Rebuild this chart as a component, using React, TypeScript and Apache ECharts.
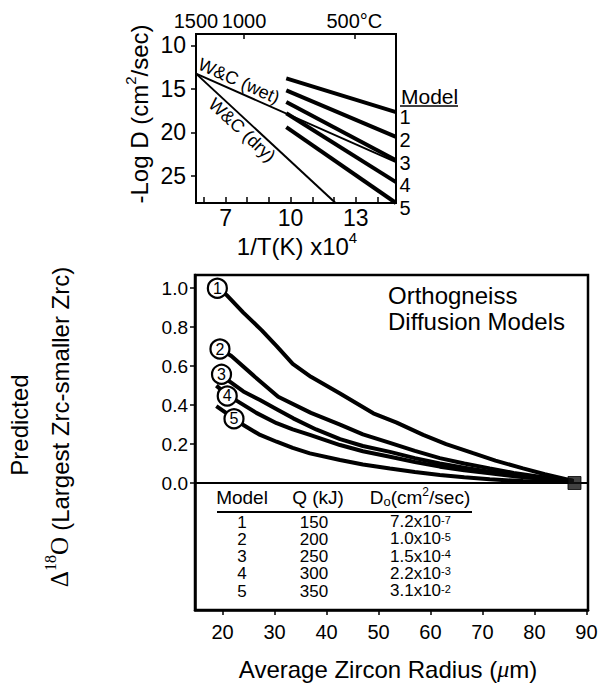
import React, { useEffect, useRef } from "react";
import * as echarts from "echarts";

// ---------- Top panel: -Log D vs 1/T ----------
const invTTicks = [6, 7, 8, 9, 10, 11, 12, 13, 14];
const invTLabels = [7, 10, 13];
const tempTicksC = [1500, 1000, 500];
const tempTickLabels = ["1500", "1000", "500°C"];
const tempRangeC = [1500, 400];
const logDTicks = [10, 15, 20, 25];

const modelLineInvT = [9.8, 14.856];
const model1LogD = [13.8, 17.66];
const model2LogD = [15.17, 20.5];
const model3LogD = [16.5, 23.2];
const model4LogD = [17.8, 25.7];
const model5LogD = [19.4, 28.1];
const wcWetInvT = [5.64, 14.856];
const wcWetLogD = [13.25, 23.4];
const wcDryInvT = [5.64, 12.07];
const wcDryLogD = [13.25, 28.1];
const modelEndLabels = ["1", "2", "3", "4", "5"];

// ---------- Bottom panel: predicted Δ18O vs radius ----------
const radiusTicks = [20, 30, 40, 50, 60, 70, 80, 90];
const deltaTicks = [0, 0.2, 0.4, 0.6, 0.8, 1.0];

const curve1R = [19.0, 20.8, 24, 27.5, 30.5, 33.5, 37, 42.6, 49, 53.5, 58.6, 63, 68.2, 72.5, 77.8, 82, 87.5];
const curve1D = [1.0, 0.965, 0.875, 0.785, 0.7, 0.612, 0.545, 0.46, 0.358, 0.31, 0.247, 0.2, 0.153, 0.115, 0.075, 0.045, 0.01];
const curve2R = [19.5, 21.7, 26.2, 30.7, 37, 42.6, 47, 52.2, 57, 61.8, 66.5, 71.4, 76, 81, 87.5];
const curve2D = [0.688, 0.652, 0.546, 0.443, 0.36, 0.3, 0.25, 0.206, 0.165, 0.128, 0.1, 0.075, 0.052, 0.032, 0.01];
const curve3R = [19.8, 21.4, 24, 27.2, 30.5, 33.6, 38, 42.6, 47, 52.2, 57, 61.8, 66.5, 71.4, 77, 82, 87.5];
const curve3D = [0.555, 0.52, 0.47, 0.426, 0.378, 0.332, 0.275, 0.225, 0.19, 0.16, 0.128, 0.1, 0.078, 0.058, 0.037, 0.022, 0.01];
const curve4R = [18.8, 21, 23, 26.5, 30.4, 33.5, 36.8, 42.6, 47, 52.2, 57, 61.8, 66.5, 71.4, 77, 82, 87.5];
const curve4D = [0.5, 0.45, 0.418, 0.36, 0.307, 0.275, 0.247, 0.195, 0.163, 0.135, 0.108, 0.084, 0.066, 0.05, 0.032, 0.02, 0.01];
const curve5R = [18.8, 22.3, 24, 27, 30.4, 33.5, 36.8, 42.6, 47, 52.2, 57, 61.8, 66.5, 71.4, 77.8, 82, 87.5];
const curve5D = [0.395, 0.33, 0.298, 0.25, 0.212, 0.18, 0.152, 0.118, 0.095, 0.075, 0.057, 0.041, 0.029, 0.019, 0.01, 0.007, 0.005];

const circleR = [19.0, 19.5, 19.8, 20.9, 22.2];
const circleD = [1.0, 0.688, 0.558, 0.447, 0.33];
const circleNames = ["1", "2", "3", "4", "5"];
const squareR = [87.7];
const squareD = [0];

const tableModels = ["1", "2", "3", "4", "5"];
const tableQ = ["150", "200", "250", "300", "350"];
const tableD0Mant = ["7.2x10", "1.0x10", "1.5x10", "2.2x10", "3.1x10"];
const tableD0Exp = ["-7", "-5", "-4", "-3", "-2"];

const SANS = "'Liberation Sans', Arial, Helvetica, sans-serif";
const SERIF = "'Liberation Serif', 'Times New Roman', serif";

const zip = (xs: number[], ys: number[]) => xs.map((x, i) => [x, ys[i]]);
const toInvT = (c: number) => 1e4 / (c + 273.15);
const tempPos = tempTicksC.map(toInvT);
const INV_T_MIN = toInvT(tempRangeC[0]);
const INV_T_MAX = toInvT(tempRangeC[1]);

export default function App() {
  const ref = useRef<HTMLDivElement>(null);
  useEffect(() => {
    if (!ref.current) return;
    const chart = echarts.init(ref.current, null, { renderer: "svg" });

    const thick = (name: string, xs: number[], ys: number[], w: number, xi: number, yi: number, extra: any = {}) => ({
      name,
      type: "line",
      xAxisIndex: xi,
      yAxisIndex: yi,
      data: zip(xs, ys),
      symbol: "none",
      showSymbol: false,
      silent: true,
      lineStyle: { color: "#000", width: w, cap: "butt" },
      z: 3,
      ...extra,
    });

    const topModels = [model1LogD, model2LogD, model3LogD, model4LogD, model5LogD];
    const curvesR = [curve1R, curve2R, curve3R, curve4R, curve5R];
    const curvesD = [curve1D, curve2D, curve3D, curve4D, curve5D];

    const series: any[] = [];
    topModels.forEach((d, i) => series.push(thick("model" + (i + 1), modelLineInvT, d, 4, 0, 0)));
    series.push(thick("W&C wet", wcWetInvT, wcWetLogD, 2, 0, 0));
    series.push(thick("W&C dry", wcDryInvT, wcDryLogD, 2, 0, 0));
    curvesR.forEach((r, i) =>
      series.push(
        thick("curve" + (i + 1), r, curvesD[i], 4, 2, 1, i === 0
          ? {
              markLine: {
                silent: true,
                symbol: "none",
                label: { show: false },
                lineStyle: { color: "#000", width: 2, type: "solid" },
                data: [{ yAxis: 0 }],
              },
            }
          : {})
      )
    );
    series.push({
      type: "scatter",
      xAxisIndex: 2,
      yAxisIndex: 1,
      data: zip(circleR, circleD).map((p, i) => ({ value: p, name: circleNames[i] })),
      symbol: "circle",
      symbolSize: 19,
      silent: true,
      z: 10,
      itemStyle: { color: "#fff", borderColor: "#000", borderWidth: 2.2, opacity: 1 },
      label: {
        show: true,
        position: "inside",
        formatter: (p: any) => p.name,
        fontSize: 16,
        color: "#000",
        fontFamily: SANS,
      },
    });
    series.push({
      type: "scatter",
      xAxisIndex: 2,
      yAxisIndex: 1,
      data: zip(squareR, squareD),
      symbol: "rect",
      symbolSize: 13,
      silent: true,
      z: 11,
      itemStyle: { color: "#111", borderColor: "#000", borderWidth: 1 },
    });

    const axisLine = { show: true, onZero: false, lineStyle: { color: "#000", width: 2 } };
    const lbl = (size: number, margin: number, extra: any = {}) => ({
      fontSize: size,
      color: "#000",
      fontFamily: SANS,
      margin,
      hideOverlap: false,
      showMinLabel: true,
      showMaxLabel: true,
      ...extra,
    });

    const graphic: any[] = [];
    const txt = (x: number, y: number, text: string, fontSize: number, opts: any = {}) => {
      const { rotation, rich, align, verticalAlign, fontFamily, fontStyle, lineHeight } = opts;
      graphic.push({
        type: "text",
        x,
        y,
        rotation: rotation || 0,
        silent: true,
        z: 100,
        style: {
          text,
          fontSize,
          fontFamily: fontFamily || SANS,
          fontStyle: fontStyle || "normal",
          fill: "#000",
          align: align || "center",
          verticalAlign: verticalAlign || "middle",
          lineHeight: lineHeight || undefined,
          rich: rich || undefined,
        },
      });
    };
    const line = (x1: number, y1: number, x2: number, y2: number, w: number) =>
      graphic.push({
        type: "line",
        silent: true,
        shape: { x1, y1, x2, y2 },
        style: { stroke: "#000", lineWidth: w },
      });

    // Top panel titles
    txt(137, 114, "{a|-Log D (cm}{b|2}{a|/sec)}", 24, {
      rotation: Math.PI / 2,
      rich: {
        a: { fontSize: 24, fontFamily: SANS, lineHeight: 28, verticalAlign: "bottom" },
        b: { fontSize: 15, fontFamily: SANS, lineHeight: 28, verticalAlign: "top" },
      },
    });
    txt(297, 244, "{a|1/T(K) x10}{b|4}", 24, {
      rich: {
        a: { fontSize: 24, fontFamily: SANS, lineHeight: 28, verticalAlign: "bottom" },
        b: { fontSize: 15, fontFamily: SANS, lineHeight: 28, verticalAlign: "top" },
      },
    });
    txt(239, 81, "W&C (wet)", 18, { rotation: -0.42 });
    txt(242, 130, "W&C (dry)", 18, { rotation: -0.75 });
    txt(401, 96, "Model", 21, { align: "left" });
    line(400, 106, 458, 106, 1.5);
    const endY = [117, 140, 163, 185, 208];
    modelEndLabels.forEach((t, i) => txt(405, endY[i], t, 20, { lineHeight: 21 }));

    // Bottom panel
    txt(388, 295, "Orthogneiss", 24, { align: "left" });
    txt(388, 321, "Diffusion Models", 24, { align: "left" });
    txt(388, 669, "{a|Average Zircon Radius (}{m|μ}{a|m)}", 24, {
      rich: {
        a: { fontSize: 24, fontFamily: SANS },
        m: { fontSize: 24, fontFamily: SERIF, fontStyle: "italic" },
      },
    });
    txt(19, 425, "Predicted", 24, { rotation: Math.PI / 2 });
    txt(57, 427, "{g|Δ}{s|18}{g|O }{a|(Largest Zrc-smaller Zrc)}", 24, {
      rotation: Math.PI / 2,
      rich: {
        g: { fontSize: 25, fontFamily: SERIF, lineHeight: 30, verticalAlign: "bottom" },
        s: { fontSize: 16, fontFamily: SERIF, lineHeight: 30, verticalAlign: "top" },
        a: { fontSize: 24, fontFamily: SANS, lineHeight: 30, verticalAlign: "bottom" },
      },
    });

    // Table
    txt(242, 497, "Model", 19);
    txt(318, 497, "Q (kJ)", 19);
    txt(420, 497, "{a|D}{o|o}{a|(cm}{b|2}{a|/sec)}", 19, {
      rich: {
        a: { fontSize: 19, fontFamily: SANS, lineHeight: 22, verticalAlign: "middle" },
        o: { fontSize: 13, fontFamily: SANS, lineHeight: 22, verticalAlign: "bottom" },
        b: { fontSize: 12, fontFamily: SANS, lineHeight: 22, verticalAlign: "top" },
      },
    });
    line(217, 512, 472, 512, 2);
    tableModels.forEach((m, i) => {
      const y = 522 + i * 17.25;
      txt(242, y, m, 17, { lineHeight: 16 });
      txt(314, y, tableQ[i], 17, { lineHeight: 16 });
      txt(390, y, "{a|" + tableD0Mant[i] + "}{b|" + tableD0Exp[i] + "}", 17, {
        align: "left",
        rich: {
          a: { fontSize: 17, fontFamily: SANS, lineHeight: 16, verticalAlign: "bottom" },
          b: { fontSize: 11, fontFamily: SANS, lineHeight: 16, verticalAlign: "top", padding: [0, 0, 4, 0] },
        },
      });
    });

    const option: any = {
      animation: false,
      textStyle: { fontFamily: SANS, color: "#000" },
      grid: [
        { left: 196, top: 34, width: 200, height: 169, show: true, borderColor: "#000", borderWidth: 2, backgroundColor: "rgba(0,0,0,0)", containLabel: false, outerBoundsMode: "none" },
        { left: 195, top: 275, width: 393, height: 335, show: true, borderColor: "#000", borderWidth: 2.5, backgroundColor: "rgba(0,0,0,0)", containLabel: false, outerBoundsMode: "none" },
      ],
      xAxis: [
        {
          gridIndex: 0, type: "value", min: INV_T_MIN, max: INV_T_MAX, position: "bottom",
          axisLine, splitLine: { show: false },
          axisTick: { show: true, inside: true, length: 6, customValues: invTTicks, lineStyle: { color: "#000", width: 1.5 } },
          axisLabel: lbl(23, 3, { customValues: invTLabels }),
        },
        {
          gridIndex: 0, type: "value", min: INV_T_MIN, max: INV_T_MAX, position: "top",
          axisLine, splitLine: { show: false },
          axisTick: { show: true, inside: true, length: 5, customValues: tempPos, lineStyle: { color: "#000", width: 1.5 } },
          axisLabel: lbl(20, 3, {
            customValues: tempPos,
            formatter: (v: number) => {
              let best = 0;
              tempPos.forEach((p, i) => { if (Math.abs(p - v) < Math.abs(tempPos[best] - v)) best = i; });
              return tempTickLabels[best];
            },
          }),
        },
        {
          gridIndex: 1, type: "value", min: 14.7, max: 90.3, position: "bottom",
          axisLine: { show: true, onZero: false, lineStyle: { color: "#000", width: 2.5 } }, splitLine: { show: false },
          axisTick: { show: true, inside: false, length: 5, customValues: radiusTicks, lineStyle: { color: "#000", width: 1.5 } },
          axisLabel: lbl(20, 12, { customValues: radiusTicks }),
        },
      ],
      yAxis: [
        {
          gridIndex: 0, type: "value", inverse: true, min: 8.7, max: 28.1,
          axisLine, splitLine: { show: false },
          axisTick: { show: true, inside: false, length: 5, customValues: logDTicks, lineStyle: { color: "#000", width: 1.5 } },
          axisLabel: lbl(23, 10, { customValues: logDTicks }),
        },
        {
          gridIndex: 1, type: "value", min: -0.652, max: 1.068,
          axisLine: { show: true, onZero: false, lineStyle: { color: "#000", width: 2.5 } }, splitLine: { show: false },
          axisTick: { show: true, inside: false, length: 5, customValues: deltaTicks, lineStyle: { color: "#000", width: 1.5 } },
          axisLabel: lbl(19, 7, { customValues: deltaTicks, formatter: (v: number) => v.toFixed(1) }),
        },
      ],
      series,
      graphic,
    };
    chart.setOption(option);
    return () => chart.dispose();
  }, []);

  return (
    <div
      ref={ref}
      style={{ position: "absolute", left: 0, top: 0, width: 600, height: 683, background: "#fff" }}
    />
  );
}
